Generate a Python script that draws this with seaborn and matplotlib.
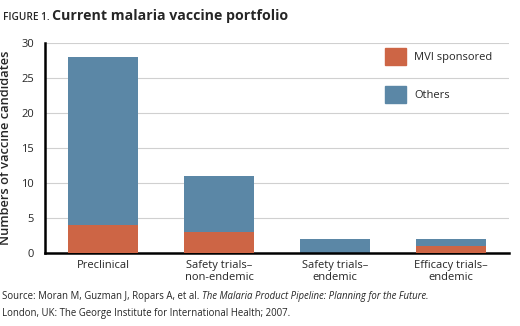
import matplotlib
matplotlib.use("Agg")
import matplotlib.pyplot as plt
import seaborn as sns
import pandas as pd
from matplotlib.patches import Patch

categories = ["Preclinical", "Safety trials–\nnon-endemic", "Safety trials–\nendemic", "Efficacy trials–\nendemic"]
mvi_sponsored = [4, 3, 0, 1]
others = [24, 8, 2, 1]
y_ticks = [0, 5, 10, 15, 20, 25, 30]

sns.set_theme(style="white")
plt.rcParams['font.family'] = ['Open Sans', 'DejaVu Sans']

orange = "#CD6545"
blue = "#5B87A6"

df = pd.DataFrame({"category": categories, "mvi": mvi_sponsored, "others": others})
df["total"] = df["mvi"] + df["others"]

fig = plt.figure(figsize=(5.2, 3.26), dpi=100)
ax = fig.add_axes([0.087, 0.224, 0.892, 0.644])

for y in y_ticks[1:]:
    ax.axhline(y, color="#d0d0d0", lw=0.8, zorder=0)

sns.barplot(data=df, x="category", y="total", color=blue, width=0.6, ax=ax,
            saturation=1, zorder=2, linewidth=0, edgecolor="none")
sns.barplot(data=df, x="category", y="mvi", color=orange, width=0.6, ax=ax,
            saturation=1, zorder=3, linewidth=0, edgecolor="none")

ax.set_xlim(-0.5, 3.5)
ax.set_ylim(0, 30)
ax.set_yticks(y_ticks)
ax.set_yticklabels([str(v) for v in y_ticks], fontsize=8)
ax.tick_params(axis="y", length=0, pad=8)

ax.set_xticks([0.5, 1.5, 2.5])
ax.set_xticklabels([])
ax.set_xticks(range(4), minor=True)
ax.set_xticklabels(categories, minor=True, fontsize=8, linespacing=1.1)
ax.tick_params(axis="x", which="major", direction="out", length=5, width=1, color="black")
ax.tick_params(axis="x", which="minor", length=0, pad=5)

ax.set_xlabel("")
ax.set_ylabel("Numbers of vaccine candidates", fontsize=9.3, fontweight="semibold", labelpad=7)

for s in ["top", "right"]:
    ax.spines[s].set_visible(False)
for s in ["left", "bottom"]:
    ax.spines[s].set_color("black")
    ax.spines[s].set_linewidth(1.8)

handles = [Patch(color=orange, label="MVI sponsored"), Patch(color=blue, label="Others")]
leg = ax.legend(handles=handles, loc="upper left", bbox_to_anchor=(0.733, 0.975),
                frameon=False, fontsize=8, handlelength=1.9, handleheight=2.0,
                labelspacing=1.85, handletextpad=0.7, borderpad=0, borderaxespad=0)

renderer = fig.canvas.get_renderer()

def chain(parts, x0, y0):
    x = x0
    for txt, kw in parts:
        t = fig.text(x, y0, txt, va="baseline", **kw)
        bb = t.get_window_extent(renderer=renderer)
        x = bb.x1 / fig.bbox.width

chain([("FIGURE 1. ", dict(fontsize=7.2, fontweight="semibold")),
       ("Current malaria vaccine portfolio", dict(fontsize=10.2, fontweight="bold"))],
      0.006, 0.94)

chain([("Source: Moran M, Guzman J, Ropars A, et al. ", dict(fontsize=6.9)),
       ("The Malaria Product Pipeline: Planning for the Future.", dict(fontsize=6.9, style="italic"))],
      0.004, 0.082)
fig.text(0.004, 0.032, "London, UK: The George Institute for International Health; 2007.",
         fontsize=6.9, va="baseline")

fig.savefig("out.png", dpi=100)
